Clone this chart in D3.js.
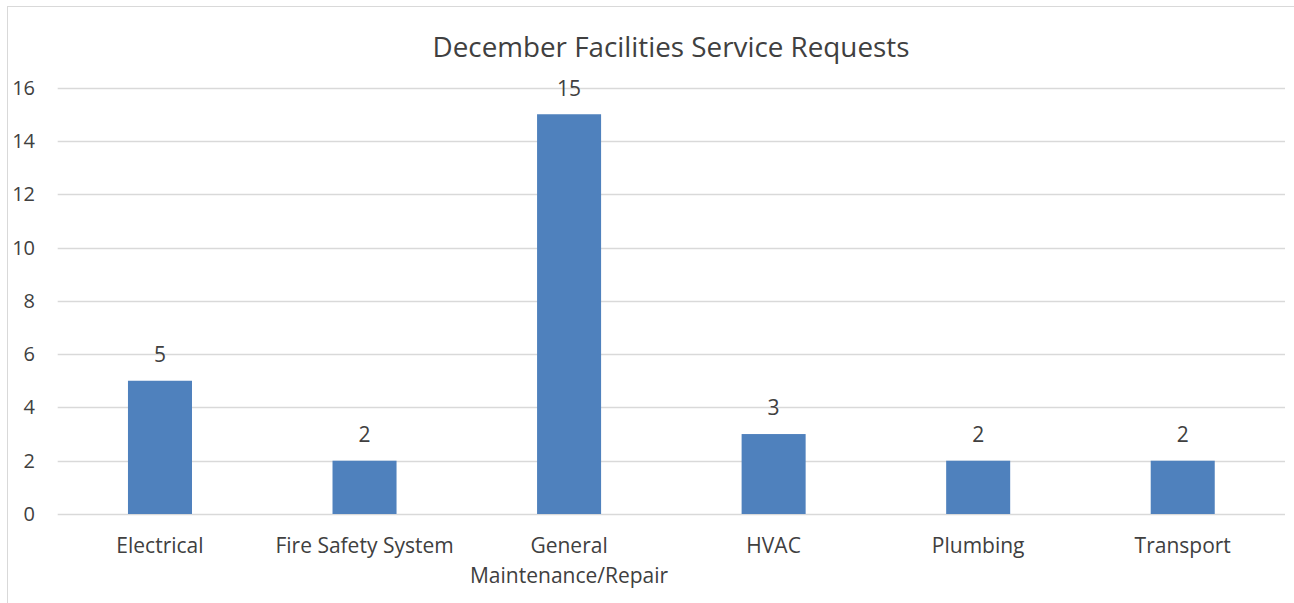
<!DOCTYPE html>
<html>
<head>
<meta charset="utf-8">
<script src="https://cdn.jsdelivr.net/npm/d3@7"></script>
<style>
html,body{margin:0;padding:0;background:#fff;}
svg{display:block;}
text{font-family:"Open Sans","Noto Sans",sans-serif;fill:#404040;}
</style>
</head>
<body>
<svg id="chart" width="1294" height="603"></svg>
<script>
const title = "December Facilities Service Requests";
const categories = ["Electrical", "Fire Safety System", "General Maintenance/Repair", "HVAC", "Plumbing", "Transport"];
const categoryLines = [["Electrical"], ["Fire Safety System"], ["General", "Maintenance/Repair"], ["HVAC"], ["Plumbing"], ["Transport"]];
const values = [5, 2, 15, 3, 2, 2];
const yTicks = [0, 2, 4, 6, 8, 10, 12, 14, 16];

const W = 1294, H = 603;
const plot = {left: 57.7, right: 1285, top: 87.6, bottom: 514};
const svg = d3.select("#chart");

// outer border
svg.append("rect").attr("x", 7.5).attr("y", 6.5).attr("width", W + 10).attr("height", H + 10)
  .attr("fill", "none").attr("stroke", "#d9d9d9").attr("stroke-width", 1);

const x = d3.scaleBand().domain(categories).range([plot.left, plot.right]).padding(0);
const y = d3.scaleLinear().domain([0, 16]).range([plot.bottom, plot.top]);
const barW = x.bandwidth() * 0.313;

// gridlines
svg.append("g").selectAll("line").data(yTicks).join("line")
  .attr("x1", plot.left).attr("x2", plot.right)
  .attr("y1", d => Math.round(y(d)) + 0.5).attr("y2", d => Math.round(y(d)) + 0.5)
  .attr("stroke", "#d9d9d9").attr("stroke-width", 1.5);

// y tick labels
svg.append("g").selectAll("text").data(yTicks).join("text")
  .attr("x", 35).attr("y", d => y(d)).attr("dy", "0.35em")
  .attr("text-anchor", "end").attr("font-size", 20).text(d => d);

// bars
svg.append("g").selectAll("rect").data(values).join("rect")
  .attr("x", (d, i) => x(categories[i]) + x.bandwidth() / 2 - barW / 2)
  .attr("y", d => y(d))
  .attr("width", barW)
  .attr("height", d => y(0) - y(d))
  .attr("fill", "#4f81bd");

// value labels
svg.append("g").selectAll("text").data(values).join("text")
  .attr("x", (d, i) => x(categories[i]) + x.bandwidth() / 2)
  .attr("y", d => y(d) - 26).attr("dy", "0.35em")
  .attr("text-anchor", "middle").attr("font-size", 21).text(d => d);

// category labels
const cat = svg.append("g").selectAll("text").data(categoryLines).join("text")
  .attr("x", (d, i) => x(categories[i]) + x.bandwidth() / 2)
  .attr("y", 546).attr("text-anchor", "middle").attr("font-size", 21);
cat.selectAll("tspan").data(d => d).join("tspan")
  .attr("x", function() { return d3.select(this.parentNode).attr("x"); })
  .attr("dy", (d, i) => i === 0 ? "0.35em" : 30)
  .text(d => d);

// title
svg.append("text").attr("x", 671).attr("y", 47).attr("dy", "0.35em")
  .attr("text-anchor", "middle").attr("font-size", 27.8).text(title);
</script>
</body>
</html>
